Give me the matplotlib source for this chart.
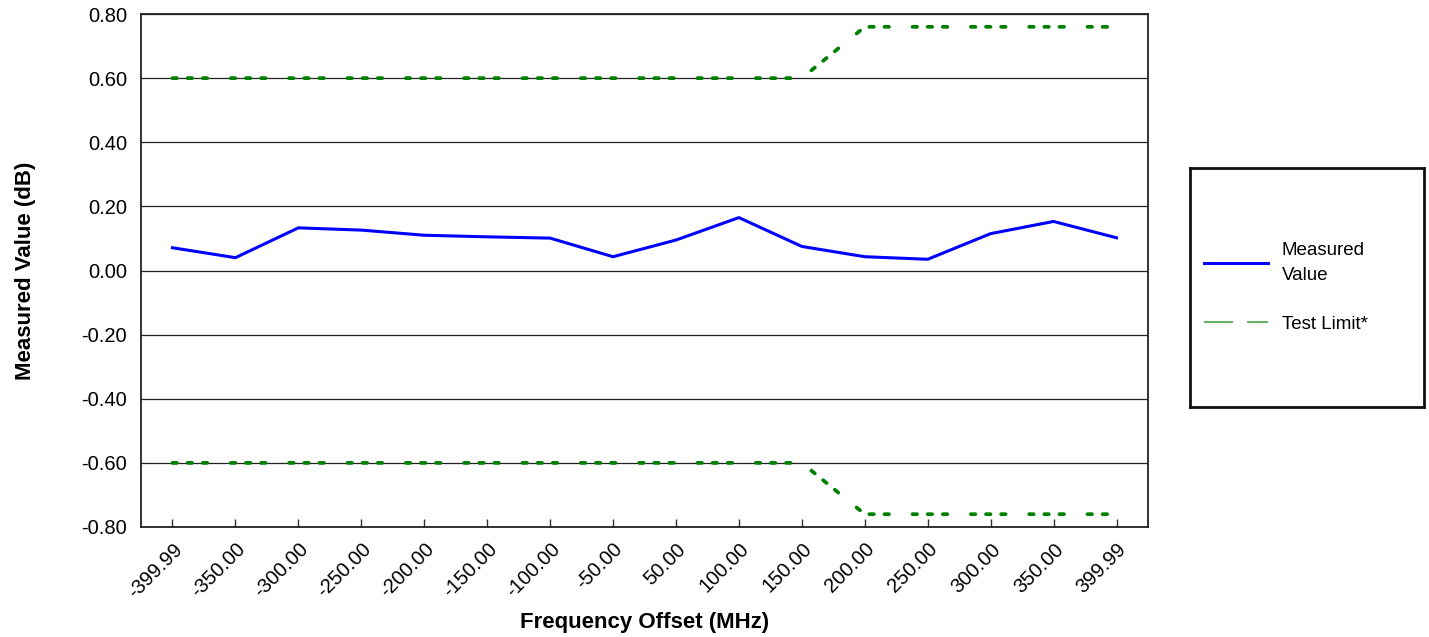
import matplotlib
matplotlib.use('Agg')
import matplotlib.pyplot as plt
from matplotlib import rcParams
from matplotlib.lines import Line2D

rcParams['font.family'] = ['Liberation Sans', 'DejaVu Sans']
rcParams['lines.scale_dashes'] = False

# data
freq_labels = ['-399.99', '-350.00', '-300.00', '-250.00', '-200.00', '-150.00',
               '-100.00', '-50.00', '50.00', '100.00', '150.00', '200.00',
               '250.00', '300.00', '350.00', '399.99']
measured = [0.071, 0.040, 0.133, 0.126, 0.110, 0.105, 0.101, 0.043,
            0.095, 0.165, 0.075, 0.043, 0.035, 0.115, 0.153, 0.102]
upper_limit = [0.60] * 11 + [0.76] * 5
lower_limit = [-0.60] * 11 + [-0.76] * 5
yticks = [-0.80, -0.60, -0.40, -0.20, 0.00, 0.20, 0.40, 0.60, 0.80]

xpos = list(range(len(freq_labels)))

fig = plt.figure(figsize=(14.29, 6.37), dpi=100)
ax = fig.add_axes([141/1429, 1-527/637, 1007/1429, 513/637])

limit_dash = (0, (3.2, 7.7, 3.2, 7.7, 3.2, 17.0))
ax.plot(xpos, measured, color='#0000ff', lw=2.2, zorder=4)
ax.plot(xpos, upper_limit, color='#008000', lw=2.7, linestyle=limit_dash,
        dash_capstyle='round', zorder=3)
ax.plot(xpos, lower_limit, color='#008000', lw=2.7, linestyle=limit_dash,
        dash_capstyle='round', zorder=3)

ax.set_xlim(-0.5, 15.5)
ax.set_ylim(-0.80, 0.80)
ax.set_yticks(yticks)
ax.set_yticklabels(['%.2f' % v for v in yticks], fontsize=14.5)
ax.set_xticks(xpos)
ax.set_xticklabels(freq_labels, fontsize=14.5, rotation=45, ha='right',
                   rotation_mode='anchor')
ax.tick_params(axis='x', direction='in', length=6, width=1, color='#333333', pad=9)
ax.tick_params(axis='y', length=0, pad=10)
ax.yaxis.grid(True, color='#222222', lw=0.9)
ax.set_axisbelow(True)
for s in ax.spines.values():
    s.set_color('#222222')
    s.set_linewidth(1.3)

ax.set_xlabel('Frequency Offset (MHz)', fontsize=16, fontweight='bold', labelpad=8)
ax.set_ylabel('Measured Value (dB)', fontsize=16, fontweight='bold', labelpad=33)

# legend panel
lax = fig.add_axes([1190/1429, 1-407/637, 234/1429, 239/637])
lax.set_xticks([])
lax.set_yticks([])
for s in lax.spines.values():
    s.set_color('#111111')
    s.set_linewidth(2)
handles = [Line2D([], [], color='#0000ff', lw=2.2),
           Line2D([], [], color='#339933', lw=1.1, linestyle=(0, (21, 10)))]
leg = lax.legend(handles, ['Measured\nValue', 'Test Limit*'], loc='center left',
                 frameon=False, fontsize=13.5, handlelength=3.4, handletextpad=0.75,
                 labelspacing=1.7, borderaxespad=0.35)
for t in leg.get_texts():
    t.set_linespacing(1.55)

plt.savefig('out.png', dpi=100)
plt.close()
